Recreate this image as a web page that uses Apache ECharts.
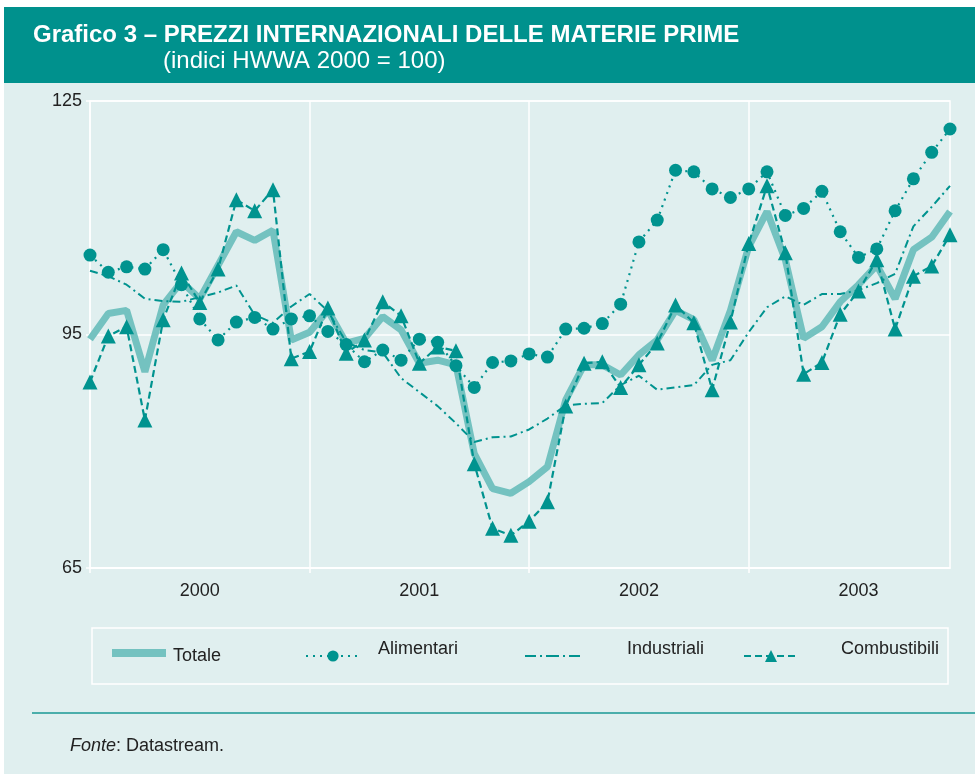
<!DOCTYPE html>
<html>
<head>
<meta charset="utf-8">
<script src="https://cdn.jsdelivr.net/npm/echarts@6/dist/echarts.min.js"></script>
<style>
  html, body { margin: 0; padding: 0; background: #fff; }
  #main { width: 975px; height: 774px; }
</style>
</head>
<body>
<div id="main"></div>
<script>
// anni e mesi (gen 2000 - dic 2003)
var years = ['2000', '2001', '2002', '2003'];
var months = [];
for (var y = 0; y < years.length; y++) {
  for (var m = 1; m <= 12; m++) {
    months.push(years[y] + '-' + (m < 10 ? '0' + m : m));
  }
}
var yTicks = [65, 95, 125];

var totale = [94.4, 97.7, 98.1, 90.2, 98.8, 101.8, 99.6, 103.9, 108.2, 107.1, 108.4, 94.3,
  95.3, 98.1, 93.9, 94.5, 97.3, 95.6, 91.3, 91.7, 91.1, 79.7, 75.2, 74.6,
  76.1, 78.0, 86.6, 91.1, 91.1, 89.8, 92.4, 94.3, 98.1, 96.9, 91.7, 98.1,
  106.3, 110.8, 104.6, 94.5, 96.0, 99.2, 101.4, 103.9, 99.6, 105.9, 107.5, 110.8];

var alimentari = [105.2, 103.0, 103.7, 103.4, 105.9, 101.4, 97.0, 94.3, 96.6, 97.2, 95.7, 97.0,
  97.4, 95.4, 93.7, 91.5, 93.0, 91.7, 94.4, 94.0, 91.0, 88.2, 91.4, 91.6,
  92.5, 92.1, 95.7, 95.8, 96.4, 98.9, 106.9, 109.7, 116.1, 115.9, 113.7, 112.6,
  113.7, 115.9, 110.3, 111.2, 113.4, 108.2, 104.9, 106.0, 110.9, 115.0, 118.4, 121.4];

var industriali = [103.2, 102.5, 101.4, 99.6, 99.3, 99.2, 99.8, 100.4, 101.3, 97.5, 96.5, 98.6,
  100.2, 98.0, 94.0, 93.0, 92.7, 89.4, 87.6, 85.8, 83.6, 81.2, 81.8, 81.9,
  82.8, 84.2, 85.9, 86.1, 86.2, 88.5, 89.7, 87.9, 88.2, 88.5, 91.1, 91.7,
  95.3, 98.5, 99.9, 98.8, 100.2, 100.2, 100.7, 101.6, 102.8, 108.9, 111.4, 114.1];

var combustibili = [88.9, 94.8, 96.0, 84.0, 96.9, 102.9, 99.1, 103.4, 112.3, 110.9, 113.6, 91.9,
  92.8, 98.4, 92.6, 94.3, 99.2, 97.4, 91.3, 93.4, 92.9, 78.4, 70.1, 69.2,
  71.0, 73.5, 85.8, 91.3, 91.5, 88.2, 91.1, 93.9, 98.8, 96.5, 87.9, 96.6,
  106.7, 114.1, 105.5, 89.9, 91.4, 97.6, 100.6, 104.6, 95.7, 102.5, 103.8, 107.8];

var teal = '#00938f';
var light = '#74c2c0';
var font = 'Liberation Sans, Arial, sans-serif';
// icona tratto-punto per la legenda di Industriali
var dashDot = 'path://M0,0h11v2h-11z M15,0h2v2h-2z M21,0h13v2h-13z M38,0h2v2h-2z M44,0h11v2h-11z';

var myChart = echarts.init(document.getElementById('main'));

// up: testo sopra l'icona (come nel grafico originale), altrimenti un po' sotto
function legendItem(item, left, top, w, h, padLeft, up) {
  return {
    data: [item],
    left: left,
    top: top,
    itemWidth: w,
    itemHeight: h,
    formatter: function (n) { return up ? n + '\n' : '\n' + n; },
    textStyle: {
      color: '#222', fontSize: 18, fontFamily: font,
      lineHeight: up ? 14 : 6, padding: [0, 0, 0, padLeft]
    },
    selectedMode: false
  };
}

var option = {
  backgroundColor: '#fff',
  animation: false,
  graphic: [
    { type: 'rect', z: -10, shape: { x: 4, y: 82, width: 971, height: 692 }, style: { fill: '#e0efef' } },
    { type: 'rect', z: -10, shape: { x: 4, y: 7, width: 971, height: 76 }, style: { fill: '#00918d' } },
    { type: 'text', x: 33, y: 35, style: { text: 'Grafico 3 – PREZZI INTERNAZIONALI DELLE MATERIE PRIME', fill: '#fff', font: 'bold 24px ' + font, verticalAlign: 'middle' } },
    { type: 'text', x: 163, y: 61, style: { text: '(indici HWWA 2000 = 100)', fill: '#fff', font: '24px ' + font, verticalAlign: 'middle' } },
    { type: 'rect', shape: { x: 92, y: 628, width: 856, height: 56 }, style: { fill: 'none', stroke: '#fff', lineWidth: 1.5 } },
    { type: 'line', shape: { x1: 32, y1: 713, x2: 975, y2: 713 }, style: { stroke: '#1a9994', lineWidth: 1.5 } },
    {
      type: 'text', x: 70, y: 746,
      style: {
        text: '{i|Fonte}: Datastream.',
        fill: '#222', font: '18px ' + font, verticalAlign: 'middle',
        rich: { i: { fontStyle: 'italic', fontSize: 18, fontFamily: font, fill: '#222' } }
      }
    }
  ],
  legend: [
    legendItem({ name: 'Totale', icon: 'rect' }, 107, 636, 54, 8, 2, false),
    legendItem({ name: 'Alimentari' }, 300, 635, 54, 14, 13, true),
    legendItem({ name: 'Industriali', icon: dashDot, itemStyle: { color: teal } }, 520, 635, 55, 2.2, 42, true),
    legendItem({ name: 'Combustibili' }, 738, 635, 54, 15, 38, true)
  ],
  grid: {
    left: 90, top: 101, right: 25, bottom: 206,
    show: true, borderColor: '#fff', borderWidth: 1.5, backgroundColor: 'transparent'
  },
  xAxis: {
    type: 'category',
    data: months,
    boundaryGap: false,
    axisLine: { lineStyle: { color: '#fff', width: 1.5 } },
    axisTick: {
      show: true, length: 5, lineStyle: { color: '#fff', width: 1.5 },
      interval: function (i) { return i % 12 === 0; }
    },
    splitLine: {
      show: true, lineStyle: { color: '#fff', width: 1.5 },
      interval: function (i) { return i % 12 === 0 && i > 0; }
    },
    axisLabel: {
      color: '#222', fontSize: 18, fontFamily: font, margin: 14,
      interval: function (i) { return i % 12 === 6; },
      formatter: function (v) { return v.slice(0, 4); }
    }
  },
  yAxis: {
    type: 'value',
    min: yTicks[0], max: yTicks[2], interval: yTicks[1] - yTicks[0],
    axisLine: { show: true, lineStyle: { color: '#fff', width: 1.5 } },
    axisTick: { show: true, length: 4, lineStyle: { color: '#fff', width: 1.5 } },
    splitLine: { show: true, lineStyle: { color: '#fff', width: 1.5 } },
    axisLabel: { color: '#222', fontSize: 18, fontFamily: font, margin: 8 }
  },
  series: [
    {
      name: 'Totale', type: 'line', data: totale,
      symbol: 'none', color: light,
      lineStyle: { color: light, width: 7 }, z: 2
    },
    {
      name: 'Industriali', type: 'line', data: industriali,
      symbol: 'none', color: teal,
      lineStyle: { color: teal, width: 2, type: [8, 4, 2, 4] }, z: 3
    },
    {
      name: 'Alimentari', type: 'line', data: alimentari,
      symbol: 'circle', symbolSize: 13, showAllSymbol: true, color: teal,
      itemStyle: { color: teal },
      lineStyle: { color: teal, width: 2.2, type: [2, 5] }, z: 4
    },
    {
      name: 'Combustibili', type: 'line', data: combustibili,
      symbol: 'triangle', symbolSize: 15, showAllSymbol: true, color: teal,
      itemStyle: { color: teal },
      lineStyle: { color: teal, width: 2.2, type: [7, 4] }, z: 5
    }
  ]
};

myChart.setOption(option);
</script>
</body>
</html>
